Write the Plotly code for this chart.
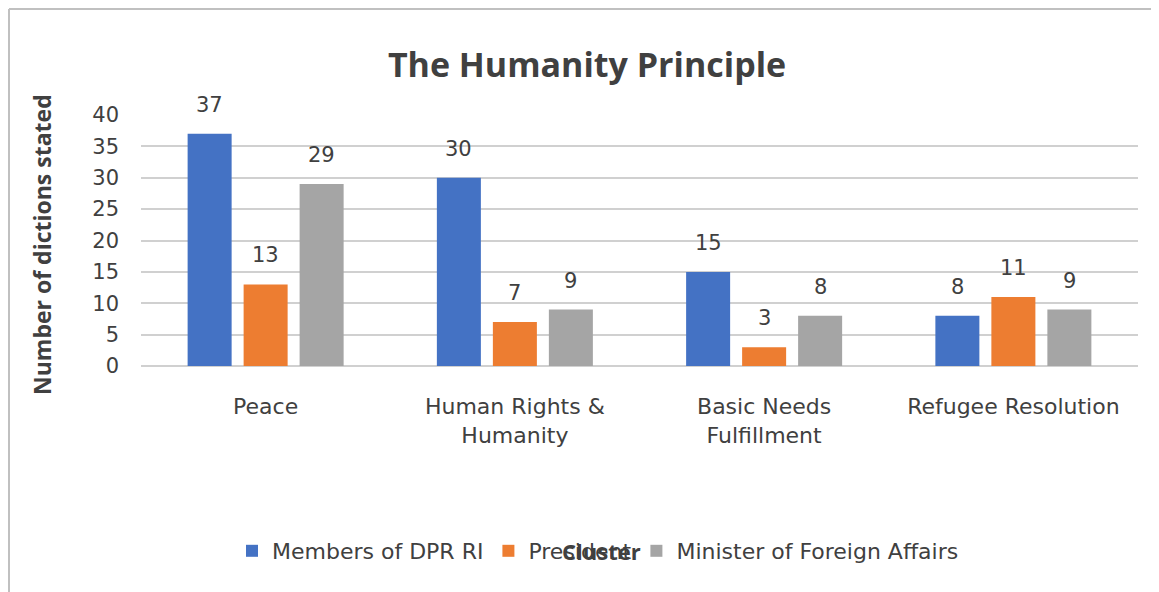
import plotly.graph_objects as go

categories = ["Peace", "Human Rights &<br>Humanity", "Basic Needs<br>Fulfillment", "Refugee Resolution"]
series_names = ["Members of DPR RI", "President", "Minister of Foreign Affairs"]
dpr_values = [37, 30, 15, 8]
president_values = [13, 7, 3, 11]
minister_values = [29, 9, 8, 9]
y_ticks = [0, 5, 10, 15, 20, 25, 30, 35, 40]

colors = ["#4472C4", "#ED7D31", "#A5A5A5"]
text_color = "#404040"
font_family = "DejaVu Sans, sans-serif"
bold_family = "Open Sans, sans-serif"

# plot area in figure pixels (page is offset 8px by the body margin)
left, right, top, bottom = 133, 29, 107, 234
plot_w = 1159 - left - right
plot_h = 592 - top - bottom
bargap = 0.326
slot_px = plot_w / len(categories) * (1 - bargap) / 3


def px_x(px):
    return (px - left) / plot_w


def px_y(py):
    return (592 - bottom - py) / plot_h


fig = go.Figure()
all_values = [dpr_values, president_values, minister_values]
for name, values, color in zip(series_names, all_values, colors):
    fig.add_trace(
        go.Bar(
            x=categories,
            y=values,
            name=name,
            marker={"color": color, "line": {"width": 0}},
            hoverinfo="x+y+name",
        )
    )

annotations = []
for i, values in enumerate(all_values):
    for cat, v in zip(categories, values):
        annotations.append(
            dict(
                x=cat,
                y=v,
                text=str(v),
                showarrow=False,
                xshift=(i - 1) * slot_px,
                yshift=29,
                yanchor="middle",
                font={"size": 21, "color": text_color, "family": font_family},
            )
        )

annotations.append(
    dict(
        x=px_x(34), y=px_y(237), xref="paper", yref="paper",
        xanchor="center", yanchor="middle",
        text="<b>Number of dictions stated</b>", textangle=-90, showarrow=False,
        font={"size": 23, "color": text_color, "family": bold_family},
    )
)
annotations.append(
    dict(
        x=px_x(593), y=px_y(543), xref="paper", yref="paper",
        xanchor="center", yanchor="middle",
        text="<b>Cluster</b>", showarrow=False,
        font={"size": 22, "color": text_color, "family": bold_family},
    )
)

fig.update_layout(
    width=1159,
    height=592,
    margin={"l": left, "r": right, "t": top, "b": bottom},
    paper_bgcolor="white",
    plot_bgcolor="white",
    barmode="group",
    bargap=bargap,
    bargroupgap=0.214,
    title={
        "text": "<b>The Humanity Principle</b>",
        "x": 579 / 1159,
        "xanchor": "center",
        "y": 1 - 57 / 592,
        "yanchor": "middle",
        "yref": "container",
        "font": {"size": 34, "color": text_color, "family": bold_family},
    },
    font={"family": font_family, "color": text_color, "size": 20},
    xaxis={
        "showgrid": False,
        "showline": False,
        "ticks": "",
        "ticklabelstandoff": 25,
        "tickfont": {"size": 22, "color": text_color},
        "fixedrange": True,
    },
    yaxis={
        "range": [0, 40],
        "tickvals": y_ticks,
        "showgrid": True,
        "gridcolor": "#D0D0D0",
        "gridwidth": 2,
        "zeroline": True,
        "zerolinecolor": "#D0D0D0",
        "zerolinewidth": 2,
        "showline": False,
        "ticks": "",
        "ticklabelstandoff": 21,
        "tickfont": {"size": 21, "color": text_color},
        "fixedrange": True,
    },
    legend={
        "orientation": "h",
        "x": px_x(590),
        "xanchor": "center",
        "y": px_y(543),
        "yanchor": "middle",
        "font": {"size": 22, "color": text_color},
        "traceorder": "normal",
    },
    annotations=annotations,
    shapes=[
        dict(type="line", xref="paper", yref="paper", x0=px_x(1), x1=px_x(1),
             y0=px_y(1), y1=px_y(640), line={"color": "#C0C0C0", "width": 2}),
        dict(type="line", xref="paper", yref="paper", x0=px_x(1), x1=px_x(1200),
             y0=px_y(1), y1=px_y(1), line={"color": "#C0C0C0", "width": 2}),
    ],
)

fig.write_html("out.html")
